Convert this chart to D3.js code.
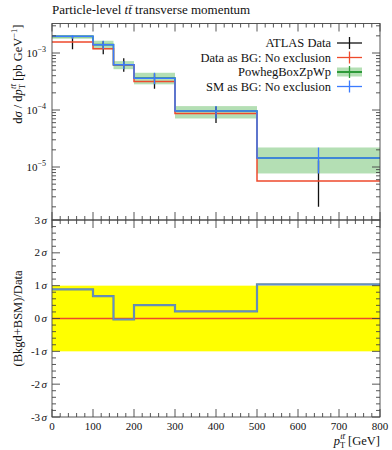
<!DOCTYPE html>
<html><head><meta charset="utf-8">
<script src="https://cdn.jsdelivr.net/npm/d3@7"></script>
<style>
html,body{margin:0;padding:0;background:#fff;}
svg text{font-family:"Liberation Serif","DejaVu Serif",serif;fill:#111;}
</style></head>
<body><div id="chart"></div>
<script>
// ---- data ----
const binEdges   = [0, 100, 150, 200, 300, 500, 800];
const binCenters = [50, 125, 175, 250, 400, 650];
const atlasData  = [1.56e-3, 1.19e-3, 6.25e-4, 3.16e-4, 8.7e-5, 5.7e-6];
const atlasLow   = [1.16e-3, 0.955e-3, 4.7e-4, 2.37e-4, 5.9e-5, 2.0e-6];
const atlasHigh  = [1.99e-3, 1.61e-3, 8.07e-4, 4.38e-4, 1.15e-4, 1.3e-5];
const dataAsBG   = [1.56e-3, 1.19e-3, 6.25e-4, 3.16e-4, 8.7e-5, 5.7e-6];
const smAsBG     = [1.96e-3, 1.40e-3, 6.2e-4, 3.62e-4, 9.6e-5, 1.44e-5];
const powheg     = [1.96e-3, 1.40e-3, 6.2e-4, 3.62e-4, 9.6e-5, 1.44e-5];
const powhegLow  = [1.78e-3, 1.16e-3, 5.2e-4, 2.82e-4, 7.1e-5, 7.7e-6];
const powhegHigh = [2.04e-3, 1.64e-3, 7.2e-4, 4.5e-4, 1.17e-4, 2.2e-5];
const ratioDataBG = [0, 0, 0, 0, 0, 0];
const ratioSM     = [0.89, 0.68, -0.03, 0.41, 0.22, 1.04];
const xTicks = [0, 100, 200, 300, 400, 500, 600, 700, 800];
const yTopTicks = [1e-5, 1e-4, 1e-3];
const sigmaTicks = [-3, -2, -1, 0, 1, 2, 3];
const legendLabels = ["ATLAS Data", "Data as BG: No exclusion", "PowhegBoxZpWp", "SM as BG: No exclusion"];

// ---- layout ----
const W = 392, H = 450;
const L = 52, R = 380, T = 23.5, M = 220, B = 417;
const cRed = "#ee4a2c", cBlue = "#3b7bff", cGreenLine = "#2e9a3a", cBand = "#b4dfb4", cYellow = "#ffff00";

const svg = d3.select("#chart").append("svg").attr("width", W).attr("height", H);
const x = d3.scaleLinear().domain([0, 800]).range([L, R]);
const yT = d3.scaleLog().domain([Math.pow(10, -5 - 53/57), Math.pow(10, -3 + 29.5/57)]).range([M, T]);
const yR = d3.scaleLinear().domain([-3, 3]).range([B, M]);

function stepPath(vals, ys) {
  const p = d3.path();
  vals.forEach((v, i) => {
    const x0 = x(binEdges[i]), x1 = x(binEdges[i+1]), yy = ys(v);
    if (i === 0) p.moveTo(x0, yy); else p.lineTo(x0, yy);
    p.lineTo(x1, yy);
  });
  return p.toString();
}

// ---- title ----
const title = svg.append("text").attr("x", L).attr("y", 13.5).attr("font-size", 13);
title.append("tspan").text("Particle-level ");
title.append("tspan").attr("font-style", "italic").text("tt\u0304");
title.append("tspan").text(" transverse momentum");

// ---- top panel ----
const topG = svg.append("g");
topG.append("defs").append("clipPath").attr("id", "clipT").append("rect")
  .attr("x", L).attr("y", T).attr("width", R - L).attr("height", M - T);
const gT = topG.append("g").attr("clip-path", "url(#clipT)");
gT.selectAll("rect.band").data(powhegLow).join("rect").attr("class", "band")
  .attr("x", (d, i) => x(binEdges[i])).attr("width", (d, i) => x(binEdges[i+1]) - x(binEdges[i]))
  .attr("y", (d, i) => yT(powhegHigh[i])).attr("height", (d, i) => yT(powhegLow[i]) - yT(powhegHigh[i]))
  .attr("fill", cBand);
gT.selectAll("line.data").data(atlasData).join("line").attr("class", "data")
  .attr("x1", (d, i) => x(binCenters[i])).attr("x2", (d, i) => x(binCenters[i]))
  .attr("y1", (d, i) => yT(atlasLow[i])).attr("y2", (d, i) => yT(atlasHigh[i]))
  .attr("stroke", "#111").attr("stroke-width", 1.3);
gT.append("path").attr("d", stepPath(powheg, yT)).attr("fill", "none").attr("stroke", cGreenLine).attr("stroke-width", 1.6);
gT.append("path").attr("d", stepPath(dataAsBG, yT)).attr("fill", "none").attr("stroke", cRed).attr("stroke-width", 1.5);
gT.append("path").attr("d", stepPath(smAsBG, yT)).attr("fill", "none").attr("stroke", cBlue).attr("stroke-width", 1.5);
gT.selectAll("line.sm").data(smAsBG).join("line").attr("class", "sm")
  .attr("x1", (d, i) => x(binCenters[i])).attr("x2", (d, i) => x(binCenters[i]))
  .attr("y1", (d, i) => yT(powhegLow[i])).attr("y2", (d, i) => yT(powhegHigh[i]))
  .attr("stroke", cBlue).attr("stroke-width", 1.3);

// ---- bottom panel ----
const gR = svg.append("g");
gR.append("rect").attr("x", L).attr("width", R - L).attr("y", yR(1)).attr("height", yR(-1) - yR(1)).attr("fill", cYellow);
gR.append("path").attr("d", stepPath(ratioDataBG, yR)).attr("fill", "none").attr("stroke", cRed).attr("stroke-width", 1.5);
gR.append("path").attr("d", stepPath(ratioSM, yR)).attr("fill", "none").attr("stroke", "#6c8a9a").attr("stroke-width", 2.2);
gR.append("path").attr("d", stepPath(ratioSM, yR)).attr("fill", "none").attr("stroke", "#5f93d8").attr("stroke-width", 0.9);

// ---- frames and ticks ----
const axisCol = "#444";
function frame(y0, y1) {
  svg.append("rect").attr("x", L).attr("y", y0).attr("width", R - L).attr("height", y1 - y0)
    .attr("fill", "none").attr("stroke", axisCol).attr("stroke-width", 0.9);
}
frame(T, M); frame(M, B);
const tk = svg.append("g").attr("stroke", axisCol).attr("stroke-width", 0.9);
function xTicksAt(yy, dir) {
  d3.range(0, 801, 20).forEach(v => {
    const len = (v % 100 === 0) ? 8 : 4;
    tk.append("line").attr("x1", x(v)).attr("x2", x(v)).attr("y1", yy).attr("y2", yy + dir * len);
  });
}
xTicksAt(T, 1); xTicksAt(M, -1); xTicksAt(M, 1); xTicksAt(B, -1);
const [lo, hi] = yT.domain();
for (let e = -7; e <= -2; e++) {
  for (let m = 1; m <= 9; m++) {
    const v = m * Math.pow(10, e);
    if (v < lo || v > hi) continue;
    const len = m === 1 ? 8 : 4;
    tk.append("line").attr("x1", L).attr("x2", L + len).attr("y1", yT(v)).attr("y2", yT(v));
    tk.append("line").attr("x1", R).attr("x2", R - len).attr("y1", yT(v)).attr("y2", yT(v));
  }
}
d3.range(-3, 3.001, 0.2).forEach(v => {
  const major = Math.abs(v - Math.round(v)) < 1e-6;
  const len = major ? 8 : 4;
  tk.append("line").attr("x1", L).attr("x2", L + len).attr("y1", yR(v)).attr("y2", yR(v));
  tk.append("line").attr("x1", R).attr("x2", R - len).attr("y1", yR(v)).attr("y2", yR(v));
});

// ---- tick labels ----
xTicks.forEach(v => {
  svg.append("text").attr("x", x(v)).attr("y", 430).attr("text-anchor", "middle").attr("font-size", 11).text(v);
});
yTopTicks.forEach(v => {
  const e = Math.round(Math.log10(v));
  const t = svg.append("text").attr("x", 46).attr("y", yT(v) + 3.5).attr("text-anchor", "end").attr("font-size", 11);
  t.append("tspan").text("10");
  t.append("tspan").attr("dy", -4.5).attr("font-size", 8).text("\u2212" + Math.abs(e));
});
sigmaTicks.forEach(v => {
  const t = svg.append("text").attr("x", 47).attr("y", yR(v) + 3.5).attr("text-anchor", "end").attr("font-size", 11);
  t.append("tspan").text((v < 0 ? "-" : "") + Math.abs(v));
  t.append("tspan").attr("font-style", "italic").attr("dx", 1.5).text("\u03c3");
});

// ---- axis titles ----
const xl = svg.append("text").attr("x", R).attr("y", 445).attr("text-anchor", "end").attr("font-size", 12.5);
xl.append("tspan").attr("font-style", "italic").text("p");
xl.append("tspan").attr("font-size", 8.5).attr("dy", 3).text("T");
xl.append("tspan").attr("font-size", 8.5).attr("font-style", "italic").attr("dx", -5).attr("dy", -9).text("tt\u0304");
xl.append("tspan").attr("dy", 6).text(" [GeV]");

const yl = svg.append("text").attr("transform", `translate(22,${T + 1}) rotate(-90)`).attr("text-anchor", "end").attr("font-size", 12.5);
yl.append("tspan").text("d");
yl.append("tspan").attr("font-style", "italic").text("\u03c3");
yl.append("tspan").text(" / d");
yl.append("tspan").attr("font-style", "italic").text("p");
yl.append("tspan").attr("font-size", 8.5).attr("dy", 3).text("T");
yl.append("tspan").attr("font-size", 8.5).attr("font-style", "italic").attr("dx", -5).attr("dy", -9).text("tt\u0304");
yl.append("tspan").attr("dy", 6).text(" [pb GeV");
yl.append("tspan").attr("font-size", 8.5).attr("dy", -5).text("\u22121");
yl.append("tspan").attr("dy", 5).text("]");

svg.append("text").attr("transform", `translate(22,${(M + B) / 2}) rotate(-90)`).attr("text-anchor", "middle")
  .attr("font-size", 12.5).text("(Bkgd+BSM)/Data");

// ---- legend ----
const legY = [43, 57.5, 72, 86.5];
const lg = svg.append("g");
legendLabels.forEach((lab, i) => {
  const yy = legY[i];
  lg.append("text").attr("x", 331).attr("y", yy + 4).attr("text-anchor", "end").attr("font-size", 12.5).text(lab);
  const x0 = 337, x1 = 362, xm = (x0 + x1) / 2;
  let col;
  if (i === 0) col = "#111"; else if (i === 1) col = cRed; else if (i === 2) col = cGreenLine; else col = cBlue;
  if (i === 2) lg.append("rect").attr("x", x0).attr("y", yy - 4.5).attr("width", x1 - x0).attr("height", 9).attr("fill", cBand);
  lg.append("line").attr("x1", x0).attr("x2", x1).attr("y1", yy).attr("y2", yy).attr("stroke", col).attr("stroke-width", i === 2 ? 2 : 1.3);
  lg.append("line").attr("x1", xm).attr("x2", xm).attr("y1", yy - 6).attr("y2", yy + 6).attr("stroke", col).attr("stroke-width", 1.3);
});
</script></body></html>
